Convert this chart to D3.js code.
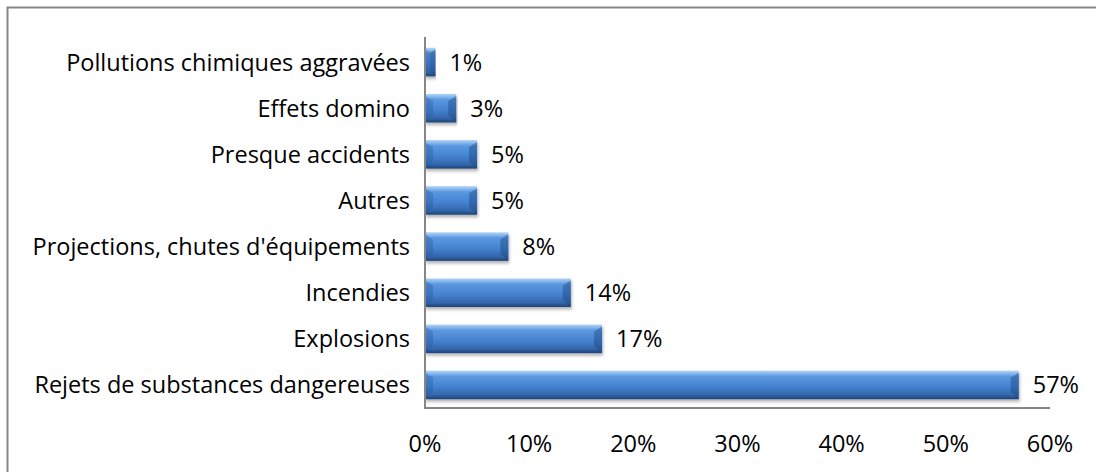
<!DOCTYPE html>
<html>
<head>
<meta charset="utf-8">
<script src="https://cdn.jsdelivr.net/npm/d3@7"></script>
<style>
  html, body { margin: 0; padding: 0; background: #fff; }
  svg { display: block; }
  text { font-family: "Open Sans", "Noto Sans", sans-serif; fill: #000; }
</style>
</head>
<body>
<svg id="chart" width="1096" height="472"></svg>
<script>
const categories = [
  "Pollutions chimiques aggravées",
  "Effets domino",
  "Presque accidents",
  "Autres",
  "Projections, chutes d'équipements",
  "Incendies",
  "Explosions",
  "Rejets de substances dangereuses"
];
const values = [1, 3, 5, 5, 8, 14, 17, 57];
const tickValues = [0, 10, 20, 30, 40, 50, 60];

const svg = d3.select("#chart");
const W = 1096, H = 472;
const FS = 23.5;

// outer border
svg.append("rect").attr("x", 7.5).attr("y", 7.5).attr("width", W).attr("height", H)
  .attr("fill", "none").attr("stroke", "#868686").attr("stroke-width", 2);

const x = d3.scaleLinear().domain([0, 60]).range([425, 1050]);
const y = d3.scaleBand().domain(categories).range([39, 408]).paddingInner(0.38).paddingOuter(0.19);

const defs = svg.append("defs");
const grad = defs.append("linearGradient").attr("id", "barGrad").attr("x1", 0).attr("y1", 0).attr("x2", 0).attr("y2", 1);
[[0, "#b4d6f7"], [0.08, "#8fbdf0"], [0.2, "#5b98e0"], [0.55, "#4583d2"], [0.85, "#3467ad"], [1, "#1e4275"]]
  .forEach(([o, c]) => grad.append("stop").attr("offset", o).attr("stop-color", c));
const filt = defs.append("filter").attr("id", "shadow").attr("x", "-5%").attr("y", "-20%").attr("width", "110%").attr("height", "160%");
filt.append("feDropShadow").attr("dx", 1).attr("dy", 2.5).attr("stdDeviation", 1.8).attr("flood-color", "#000").attr("flood-opacity", 0.3);

const bars = svg.append("g").selectAll("g").data(categories).join("g");
bars.each(function(c, i) {
  const g = d3.select(this);
  const x0 = x(0), x1 = x(values[i]);
  const y0 = y(c), h = y.bandwidth();
  const w = x1 - x0;
  const b = Math.min(8, w / 2);
  g.append("rect").attr("x", x0).attr("y", y0).attr("width", w).attr("height", h)
    .attr("fill", "url(#barGrad)").attr("filter", "url(#shadow)");
  // left bevel (darker top-left)
  g.append("polygon").attr("points", [[x0, y0 + 2], [x0 + b, y0 + b * 0.9], [x0 + b, y0 + h - b * 0.9], [x0, y0 + h]].join(" "))
    .attr("fill", "#24569a").attr("opacity", 0.35);
  // right bevel
  g.append("polygon").attr("points", [[x1, y0 + 2], [x1 - b, y0 + b * 0.9], [x1 - b, y0 + h - b * 0.9], [x1, y0 + h]].join(" "))
    .attr("fill", "#1c477f").attr("opacity", 0.45);
  // value label
  g.append("text").attr("x", x1 + 14).attr("y", y0 + h / 2).attr("dy", "0.36em")
    .attr("font-size", FS).text(values[i] + "%");
});

// axes lines
svg.append("line").attr("x1", 425).attr("x2", 425).attr("y1", 37).attr("y2", 409)
  .attr("stroke", "#868686").attr("stroke-width", 2);
svg.append("line").attr("x1", 424).attr("x2", 1050).attr("y1", 408).attr("y2", 408)
  .attr("stroke", "#868686").attr("stroke-width", 2);

// category labels
svg.append("g").selectAll("text").data(categories).join("text")
  .attr("x", 410).attr("y", d => y(d) + y.bandwidth() / 2).attr("dy", "0.36em")
  .attr("text-anchor", "end").attr("font-size", FS).text(d => d);

// tick labels
svg.append("g").selectAll("text").data(tickValues).join("text")
  .attr("x", d => x(d)).attr("y", 452).attr("text-anchor", "middle")
  .attr("font-size", FS).text(d => d + "%");
</script>
</body>
</html>
